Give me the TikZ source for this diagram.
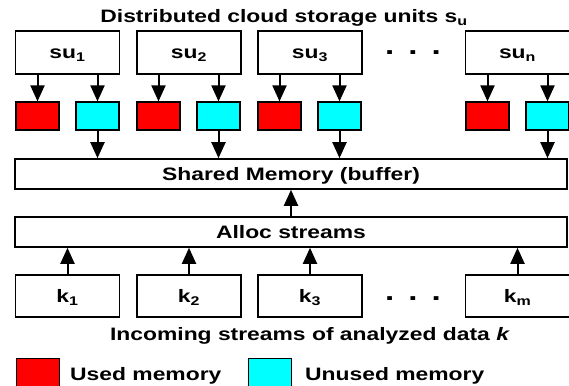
\documentclass[tikz,border=0pt]{standalone}
\usepackage{fontspec}
\setmainfont{Liberation Sans}[FakeStretch=1.27]
\usetikzlibrary{
  arrows.meta,
  positioning
}
\definecolor{usedred}{HTML}{FF0000}
\definecolor{freecyan}{HTML}{00FFFF}
\tikzset{
  label/.style={
    font=\bfseries\fontsize{18}{20}\selectfont,
    text height=13pt,
    text depth=0pt,
    inner sep=0pt
  },
  unit/.style={
    label,
    draw,
    line width=1.6pt,
    minimum width=104pt,
    minimum height=43pt
  },
  stream/.style={unit, minimum height=42pt},
  used/.style={
    draw,
    line width=1.2pt,
    fill=usedred,
    minimum width=43pt,
    minimum height=28pt,
    inner sep=0pt
  },
  unused/.style={used, fill=freecyan},
  buffer/.style={unit, minimum width=552pt, minimum height=30pt},
  arrow/.style={-{Triangle[length=16pt, width=14pt]}, line width=2pt},
  dots/.style={font=\bfseries\fontsize{26}{28}\selectfont, anchor=base, inner sep=0pt},
  caption/.style={font=\bfseries\fontsize{18}{20}\selectfont, anchor=base, inner sep=0pt}
}
\begin{document}
\begin{tikzpicture}[x=1pt, y=-1pt]
  \useasboundingbox (0,0) rectangle (569,385);

  \node[caption] (title) at (284,23) {Distributed cloud storage units s\textsubscript{u}};

  % storage units
  \node[unit] (su1) at (67.5,52.5) {su\textsubscript{1}};
  \node[unit] (su2) at (189,52.5) {su\textsubscript{2}};
  \node[unit] (su3) at (310,52.5) {su\textsubscript{3}};
  \node[unit] (sun) at (517.5,52.5) {su\textsubscript{n}};
  \node[dots] (sudots) at (413,55) {.\hspace{14pt}.\hspace{14pt}.};

  \node[used] (used1) at (37.5,116) {};
  \node[unused] (free1) at (97.5,116) {};
  \node[used] (used2) at (158.5,116) {};
  \node[unused] (free2) at (218.5,116) {};
  \node[used] (used3) at (279.5,116) {};
  \node[unused] (free3) at (339.5,116) {};
  \node[used] (usedn) at (487.5,116) {};
  \node[unused] (freen) at (547.5,116) {};

  \node[buffer] (shared) at (291,174) {Shared Memory (buffer)};
  \node[buffer] (alloc) at (291,232) {Alloc streams};

  % incoming streams
  \node[stream] (k1) at (67.5,296) {k\textsubscript{1}};
  \node[stream] (k2) at (189,296) {k\textsubscript{2}};
  \node[stream] (k3) at (310,296) {k\textsubscript{3}};
  \node[stream] (km) at (517.5,296) {k\textsubscript{m}};
  \node[dots] (kdots) at (413,300) {.\hspace{14pt}.\hspace{14pt}.};

  \node[caption] (incoming) at (310,340) {Incoming streams of analyzed data \textit{k}};

  \draw[arrow] (su1.south -| used1) -- (used1);
  \draw[arrow] (su1.south -| free1) -- (free1);
  \draw[arrow] (su2.south -| used2) -- (used2);
  \draw[arrow] (su2.south -| free2) -- (free2);
  \draw[arrow] (su3.south -| used3) -- (used3);
  \draw[arrow] (su3.south -| free3) -- (free3);
  \draw[arrow] (sun.south -| usedn) -- (usedn);
  \draw[arrow] (sun.south -| freen) -- (freen);

  \draw[arrow] (free1) -- (free1 |- shared.north);
  \draw[arrow] (free2) -- (free2 |- shared.north);
  \draw[arrow] (free3) -- (free3 |- shared.north);
  \draw[arrow] (freen) -- (freen |- shared.north);

  \draw[arrow] (alloc) -- (shared);

  \draw[arrow] (k1) -- (k1 |- alloc.south);
  \draw[arrow] (k2) -- (k2 |- alloc.south);
  \draw[arrow] (k3) -- (k3 |- alloc.south);
  \draw[arrow] (km) -- (km |- alloc.south);

  % legend
  \node[used, minimum height=42pt, anchor=north west] (usedkey) at (16,358) {};
  \node[caption, anchor=base west] (usedtext) at (70,380) {Used memory};
  \node[unused, minimum height=42pt, anchor=north west] (freekey) at (248,358) {};
  \node[caption, anchor=base west] (freetext) at (305,380) {Unused memory};
\end{tikzpicture}
\end{document}
